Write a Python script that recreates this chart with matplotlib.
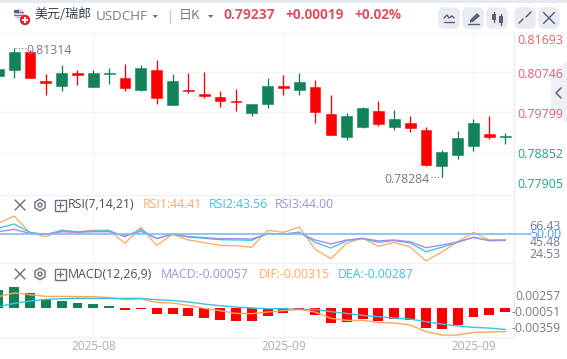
import matplotlib
matplotlib.use("Agg")
import matplotlib.pyplot as plt
from matplotlib.patches import Circle, FancyBboxPatch, Polygon, Rectangle, RegularPolygon

plt.rcParams['font.family'] = ['Noto Sans CJK SC', 'DejaVu Sans']

# ---------- data ----------
opens = [.80652,.80801,.81215,.80535,.80426,.80723,.80402,.80707,.80606,.80332,.80793,.79980,.80324,.80230,.80160,.80066,.79793,.79996,.80418,.80332,.80395,.79762,.79230,.79465,.79832,.79465,.79551,.79387,.78550,.78808,.79019,.79293,.79218]
closes = [.80817,.81215,.80613,.80496,.80723,.80676,.80723,.80723,.80379,.80840,.80145,.80535,.80304,.80191,.80074,.80051,.79996,.80418,.80379,.80512,.79816,.79277,.79715,.79902,.79535,.79644,.79441,.78574,.78871,.79199,.79551,.79230,.79237]
highs = [.80860,.81314,.81262,.80699,.80910,.80793,.80793,.80840,.80934,.80910,.81027,.80699,.80723,.80746,.80301,.80348,.79951,.80606,.80680,.80723,.80559,.80207,.79785,.79926,.80066,.79855,.79715,.79457,.78918,.79363,.79644,.79715,.79316]
lows = [.80600,.80613,.80613,.80207,.80309,.80449,.80402,.80473,.80309,.80309,.80004,.79980,.80262,.80145,.79934,.79840,.79723,.79910,.80215,.80215,.79558,.79277,.79160,.79441,.79488,.79394,.79347,.78550,.78284,.78715,.78902,.79183,.79066]

rsi1 = [59.6,66.43,50.9,47.2,53.4,51.5,53.1,53.1,41.0,55.9,39.1,49.4,44.1,41.6,39.1,38.8,37.3,53.1,51.2,56.2,35.4,26.7,41.3,45.9,38.2,41.9,37.6,24.53,32.9,42.5,51.2,44.1,44.41]
rsi2 = [54.95,59.0,51.2,49.4,52.8,51.8,52.5,52.8,47.2,54.0,45.3,49.4,46.9,45.6,44.4,44.1,43.8,50.3,49.7,51.5,41.9,36.6,43.5,45.3,41.9,43.5,41.3,33.2,37.3,41.9,46.6,43.5,43.56]
rsi3 = [51.8,54.0,50.3,49.4,51.8,51.2,51.8,51.8,47.8,52.2,45.6,49.7,47.2,46.3,45.3,45.3,45.0,49.7,49.4,50.6,44.1,40.4,44.1,45.6,43.2,44.1,42.5,36.9,39.4,42.2,46.6,43.5,44.00]

hist = [.00232,.00272,.00189,.00114,.00088,.00061,.00048,.00022,-.00031,-.00018,-.00083,-.00083,-.00110,-.00136,-.00162,-.00175,-.00175,-.00110,-.00066,-.00031,-.00096,-.00202,-.00189,-.00149,-.00175,-.00149,-.00162,-.00268,-.00281,-.00228,-.00123,-.00096,-.00062]
dif = [.00145,.00193,.00171,.00149,.00149,.00145,.00145,.00132,.00105,.00118,.00070,.00061,.00031,-.00009,-.00039,-.00075,-.00079,-.00057,-.00039,-.00022,-.00057,-.00140,-.00167,-.00167,-.00193,-.00202,-.00228,-.00315,-.00360,-.00360,-.00325,-.00320,-.00315]
dea = [.00013,.00057,.00088,.00110,.00118,.00123,.00123,.00123,.00123,.00123,.00105,.00096,.00075,.00048,.00026,.00009,-.00004,-.00013,-.00013,-.00022,-.00022,-.00053,-.00075,-.00101,-.00118,-.00136,-.00149,-.00184,-.00215,-.00241,-.00259,-.00268,-.00287]

price_ticks = [.80746,.79799,.78852]
date_ticks = [6, 18, 30]
date_labels = ['2025-08','2025-09','2025-09']

# ---------- layout ----------
W, H = 567, 359
GREEN, RED = '#128259', '#ff0000'
GRID = '#f3f5f9'
ORANGE, CYAN, PURPLE = '#ffa75f', '#35c5e0', '#a78be8'
GREY = '#777a8a'
HRED = '#e0525f'
LRED, LGREEN = '#e4626f', '#1fa58b'
n = len(opens)
idx = list(range(n))
XLIM = (1.7/15.84, 515.2/15.84)

fig = plt.figure(figsize=(W/100, H/100), dpi=100, facecolor='white')

def pane(top, bottom, ylim):
    a = fig.add_axes([0, 1-bottom/H, 513.5/W, (bottom-top)/H])
    a.set_xlim(*XLIM); a.set_ylim(*ylim)
    for s in a.spines.values():
        s.set_visible(False)
    a.tick_params(length=0, labelleft=False, labelbottom=False)
    a.set_xticks(date_ticks)
    a.grid(True, axis='x', color=GRID, lw=1)
    a.set_axisbelow(True)
    return a

# price
ax = pane(32, 192, (.80746-(192-72)/4266, .80746-(32-72)/4266))
ax.set_yticks(price_ticks)
ax.grid(True, axis='y', color=GRID, lw=1)
cols = [GREEN if c >= o else RED for o, c in zip(opens, closes)]
ax.vlines(idx, lows, highs, colors=cols, lw=0.95)
ax.bar(idx, [abs(c-o) for o, c in zip(opens, closes)],
       bottom=[min(o, c) for o, c in zip(opens, closes)],
       width=0.68, color=cols, edgecolor=cols, lw=0.4)

# RSI
def rv(y):
    return 66.43-(y-216)/1.074
ax2 = pane(194.5, 263.3, (rv(263.3), rv(194.5)))
ax2.set_yticks([])
ax2.plot(idx, rsi1, color=ORANGE, lw=0.9)
ax2.plot(idx, rsi2, color=CYAN, lw=0.9)
ax2.plot(idx, rsi3, color=PURPLE, lw=1.0)
ax2.axhline(50, color='#7cbcf5', lw=1.2)

# MACD
def mv(y):
    return -(y-307.7)/7600
ax3 = pane(263.3, 337, (mv(337), mv(263.3)))
ax3.set_yticks([])
ax3.bar(idx, hist, width=0.63, color=[GREEN if h >= 0 else RED for h in hist])
ax3.plot(idx, dif, color=ORANGE, lw=1.0)
ax3.plot(idx, dea, color=CYAN, lw=1.0)
ax3.set_xticklabels(date_labels, fontsize=8.6, color='#a9abb9', family=['Open Sans', 'DejaVu Sans'])
ax3.tick_params(axis='x', labelbottom=True, pad=2)

# ---------- chrome, in pixel coordinates ----------
ov = fig.add_axes([0, 0, 1, 1], facecolor='none')
ov.set_xlim(0, W); ov.set_ylim(H, 0); ov.axis('off')
LAT = ['Open Sans', 'DejaVu Sans']

def T(x, y, s, c=GREY, fs=8.8, ha='left', **k):
    k.setdefault('family', LAT)
    ov.text(x, y, s, color=c, fontsize=fs, ha=ha, va='center', **k)

def L(xs, ys, c='#6b6f80', lw=1.0, **k):
    ov.plot(xs, ys, color=c, lw=lw, solid_capstyle='round', **k)

ov.add_patch(Rectangle((0, 0), W, 2.5, color='#e6e9f0', lw=0))
for y in [32.5]:
    L([0, W], [y, y], '#f3f5f9', 1)
for y in [194.5, 263.3, 337]:
    L([0, 513.5], [y, y], '#eff1f6', 1)
L([513.5, 513.5], [32, 337], '#eceef3', 1)

# header
ov.add_patch(Circle((19, 14), 5, color='#c9cfe0', lw=0))
ov.add_patch(Rectangle((14, 12), 10, 1.2, color='#d7525a', lw=0))
ov.add_patch(Rectangle((14, 15), 10, 1.2, color='#d7525a', lw=0))
ov.add_patch(Rectangle((14, 9.5), 5, 3, color='#4a5d9a', lw=0))
ov.add_patch(Circle((25, 20), 5.2, color='#e8202c', lw=0))
ov.add_patch(Rectangle((21.8, 19), 6.4, 2, color='white', lw=0))
ov.add_patch(Rectangle((24, 16.8), 2, 6.4, color='white', lw=0))
T(34, 15, '美元/瑞郎', '#3c3f4c', 9.4, family=['Noto Sans CJK SC', 'DejaVu Sans'])
T(96, 17, 'USDCHF', GREY, 9.6)
ov.add_patch(Polygon([(152.5, 15), (158, 15), (155.2, 18)], color='#6b6f80', lw=0))
L([169.5, 169.5], [10, 22.5], '#c6cad6', 1)
T(179, 15, '日K', GREY, 9.4, family=['Noto Sans CJK SC', 'DejaVu Sans'])
ov.add_patch(Polygon([(208, 15), (213.5, 15), (210.7, 18)], color='#6b6f80', lw=0))
T(224, 15, '0.79237', HRED, 10, fontweight='bold')
T(285, 15, '+0.00019', HRED, 9.8, fontweight='bold')
T(354.5, 15, '+0.02%', HRED, 9.8, fontweight='bold')

for x in [439, 463, 487, 515, 539]:
    ov.add_patch(FancyBboxPatch((x+2, 10), 16, 16, boxstyle='round,pad=0,rounding_size=3',
                                mutation_scale=1, fc='#e8ebf2', ec='#e8ebf2', lw=4))
# button glyphs
L([444, 447, 449, 452, 454], [18, 15, 18, 16, 18], '#5c6070', 1)
L([444, 454], [21.5, 21.5], '#5c6070', 1)
ov.add_patch(Polygon([(470, 20), (477, 13), (480, 16), (473, 22), (470, 22.5)], color='#5c6070', lw=0))
L([468, 479], [23.5, 23.5], '#5c6070', 1)
for bx, t, b in [(494, 14, 20), (501, 16, 23)]:
    ov.add_patch(Rectangle((bx-2, t), 4, b-t, color='#5c6070', lw=0))
    L([bx, bx], [t-2, b+2], '#5c6070', 1)
L([519, 523], [23, 19], '#5c6070', 1.1); L([526, 531], [17, 12], '#5c6070', 1.1)
L([543.5, 554.5], [12.5, 23.5], '#5c6070', 1); L([543.5, 554.5], [23.5, 12.5], '#5c6070', 1)

# right-side tab
ov.add_patch(Polygon([(567, 62), (551, 72), (551, 113), (567, 123)], color='#eef0f5', lw=0))
L([561, 556, 561], [88, 93, 98], '#6b6f80', 1.2)

# price labels
for y, s, c in [(40.3, '0.81693', LRED), (74.5, '0.80746', LRED), (114.7, '0.79799', LRED),
                (155, '0.78852', LGREEN), (184, '0.77905', LGREEN)]:
    T(517, y, s, c, 8.9)
T(26, 50.5, '0.81314', GREY, 8.8)
T(384, 179.5, '0.78284', GREY, 8.8)
L([15, 26], [47.5, 47.5], GREY, 0.8, ls=(0, (1, 2)))
L([431, 442], [176.7, 176.7], GREY, 0.8, ls=(0, (1, 2)))

# pane headers
for y in [205, 274]:
    L([15, 25], [y-5, y+5], '#6b6f80', 1); L([15, 25], [y+5, y-5], '#6b6f80', 1)
    ov.add_patch(RegularPolygon((40, y), 6, radius=5.8, fill=False, ec='#6b6f80', lw=1))
    ov.add_patch(Circle((40, y), 2, fill=False, ec='#6b6f80', lw=1))
    ov.add_patch(Rectangle((54.5, y-5.5), 11, 11, fill=False, ec='#6b6f80', lw=1))
    L([57, 63], [y, y], '#6b6f80', 0.9); L([60, 60], [y-3, y+3], '#6b6f80', 0.9)
T(68, 205, 'RSI(7,14,21)', '#4b4e5c', 8.8)
T(143, 205, 'RSI1:44.41', ORANGE, 8.8)
T(209, 205, 'RSI2:43.56', CYAN, 8.8)
T(275, 205, 'RSI3:44.00', PURPLE, 8.8)
T(68, 274, 'MACD(12,26,9)', '#4b4e5c', 8.8)
T(161, 274, 'MACD:-0.00057', PURPLE, 8.8)
T(259, 274, 'DIF:-0.00315', ORANGE, 8.8)
T(338, 274, 'DEA:-0.00287', CYAN, 8.8)

# RSI and MACD value labels
L([513.5, 531], [233.7, 233.7], '#7cbcf5', 1.2)
for y, s, c in [(226.5, '66.43', GREY), (242.3, '45.48', GREY), (254.7, '24.53', GREY), (234.7, '50.00', '#3f9ff0')]:
    T(561, y, s, c, 8.8, ha='right')
for y, s in [(296.7, '0.00257'), (312.7, '-0.00051'), (328.7, '-0.00359')]:
    T(561, y, s, GREY, 8.8, ha='right')

fig.savefig('out.png', dpi=100)
